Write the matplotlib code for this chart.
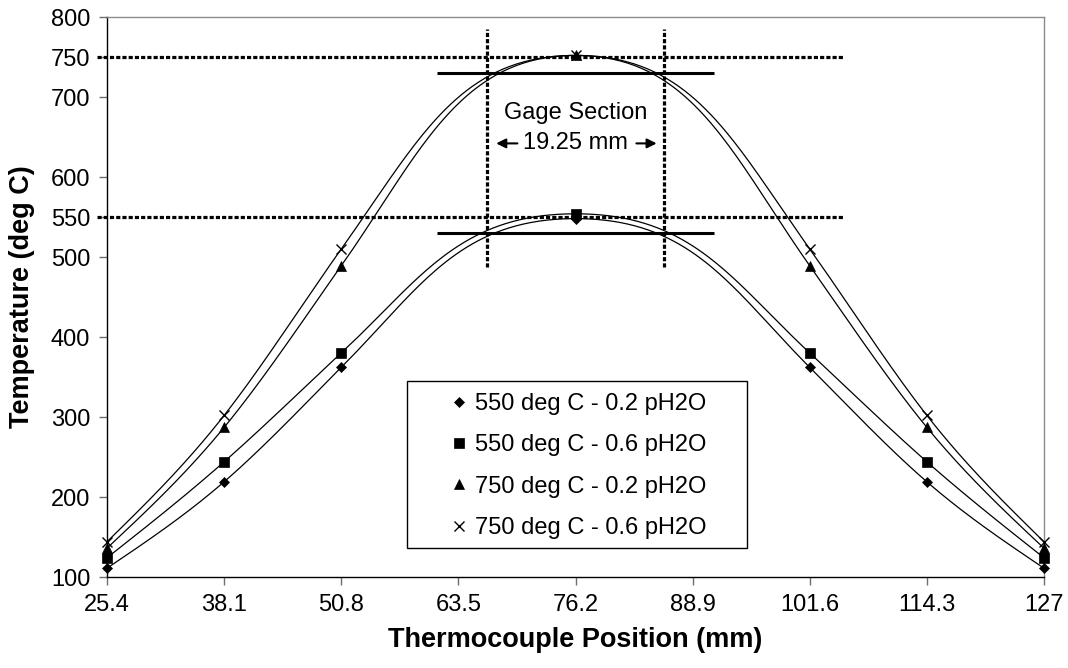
import numpy as np
import matplotlib
matplotlib.use("Agg")
import matplotlib.pyplot as plt
from matplotlib.lines import Line2D
from matplotlib.patches import Rectangle

plt.rcParams['font.family'] = ['Liberation Sans', 'DejaVu Sans']

# ---------------- data ----------------
positions = [25.4, 38.1, 50.8, 76.2, 101.6, 114.3, 127.0]
x_ticks = [25.4, 38.1, 50.8, 63.5, 76.2, 88.9, 101.6, 114.3, 127.0]
x_tick_labels = ["25.4", "38.1", "50.8", "63.5", "76.2", "88.9", "101.6", "114.3", "127"]
y_ticks = [100, 200, 300, 400, 500, 550, 600, 700, 750, 800]

t550_02 = [111, 219, 362, 548, 362, 219, 111]
t550_06 = [124, 244, 380, 554, 380, 244, 124]
t750_02 = [136, 287, 489, 752, 489, 287, 136]
t750_06 = [144, 302, 510, 752, 510, 302, 144]

series_labels = ["550 deg C - 0.2 pH2O", "550 deg C - 0.6 pH2O",
                 "750 deg C - 0.2 pH2O", "750 deg C - 0.6 pH2O"]
series_values = [t550_02, t550_06, t750_02, t750_06]
series_markers = ["D", "s", "^", "x"]
series_msizes = [5.5, 6.5, 6.5, 7]

target_temps = [550, 750]
tolerance = 20
gage_center = 76.2
gage_length = 19.25
target_line_x = [24.3, 105.2]
tol_line_x = [61.2, 91.2]
gage_line_y = [488, 785]


def spline_slopes(x, y):
    """Slopes of the natural cubic spline through the points."""
    x = np.asarray(x, float)
    y = np.asarray(y, float)
    n = len(x)
    h = np.diff(x)
    d = np.diff(y) / h
    A = np.zeros((n, n))
    b = np.zeros(n)
    A[0, 0] = 1
    A[-1, -1] = 1
    for i in range(1, n - 1):
        A[i, i - 1] = h[i - 1]
        A[i, i] = 2 * (h[i - 1] + h[i])
        A[i, i + 1] = h[i]
        b[i] = 6 * (d[i] - d[i - 1])
    M = np.linalg.solve(A, b)
    m = np.zeros(n)
    for i in range(n - 1):
        m[i] = d[i] - h[i] * (2 * M[i] + M[i + 1]) / 6
    m[-1] = d[-1] + h[-1] * (M[-2] + 2 * M[-1]) / 6
    return m


def smooth(x, y, peak_frac=0.5, n=80):
    """Smooth Bezier curve; handles are longer (flatter) at the extremum."""
    x = np.asarray(x, float)
    y = np.asarray(y, float)
    m = spline_slopes(x, y)
    npts = len(x)
    ext = np.zeros(npts, bool)
    for i in range(1, npts - 1):
        if (y[i] - y[i - 1]) * (y[i + 1] - y[i]) < 0:
            ext[i] = True
            m[i] = 0.0
    out = []
    t = np.linspace(0, 1, n)[:, None]
    for i in range(npts - 1):
        h = x[i + 1] - x[i]
        a = h * (peak_frac if ext[i] else 1 / 3)
        bb = h * (peak_frac if ext[i + 1] else 1 / 3)
        p1 = np.array([x[i], y[i]])
        p2 = np.array([x[i + 1], y[i + 1]])
        c1 = p1 + np.array([a, a * m[i]])
        c2 = p2 - np.array([bb, bb * m[i + 1]])
        seg = ((1 - t) ** 3) * p1 + 3 * ((1 - t) ** 2) * t * c1 + 3 * (1 - t) * t ** 2 * c2 + t ** 3 * p2
        out.append(seg if i == 0 else seg[1:])
    out = np.vstack(out)
    return out[:, 0], out[:, 1]


fig = plt.figure(figsize=(10.68, 6.68), dpi=100)
ax = fig.add_axes([107 / 1068, 1 - 577 / 668, 937 / 1068, 560 / 668])
ax.set_xlim(25.4, 127)
ax.set_ylim(100, 800)

for vals, mk, ms in zip(series_values, series_markers, series_msizes):
    xs, ys = smooth(positions, vals)
    ax.plot(xs, ys, color='black', lw=0.9, clip_on=False, zorder=3)
    ax.plot(positions, vals, ls='none', marker=mk, ms=ms, color='black',
            mew=1.0 if mk == 'x' else 0.5, clip_on=False, zorder=5)

# target dotted lines and tolerance lines
dot_style = (0, (1.3, 0.65))
for T in target_temps:
    ax.plot(target_line_x, [T, T], color='black', lw=2.3, ls=dot_style,
            dash_capstyle='butt', clip_on=False, zorder=4)
    ax.plot(tol_line_x, [T - tolerance, T - tolerance], color='black', lw=2.2,
            solid_capstyle='butt', zorder=4)

# gage section boundaries
for gx in [gage_center - gage_length / 2, gage_center + gage_length / 2]:
    ax.plot([gx, gx], gage_line_y, color='black', lw=2.3, ls=dot_style,
            dash_capstyle='butt', zorder=4)

ax.text(gage_center, 680, "Gage Section", ha='center', va='center', fontsize=17)
ax.text(gage_center, 642, "19.25 mm", ha='center', va='center', fontsize=17)
arrow_kw = dict(arrowstyle='-|>', color='black', lw=1.5, mutation_scale=14,
                shrinkA=0, shrinkB=0)
ax.annotate("", xy=(67.6, 642), xytext=(69.9, 642), arrowprops=arrow_kw)
ax.annotate("", xy=(85.0, 642), xytext=(82.8, 642), arrowprops=arrow_kw)

# axes styling
ax.set_xticks(x_ticks)
ax.set_xticklabels(x_tick_labels)
ax.set_yticks(y_ticks)
ax.set_yticklabels([str(v) for v in y_ticks])
ax.tick_params(axis='both', direction='out', length=6, width=1, color='#707070',
               labelsize=17, pad=6)
for s in ['left', 'bottom']:
    ax.spines[s].set_color('black')
    ax.spines[s].set_linewidth(1.0)
for s in ['top', 'right']:
    ax.spines[s].set_color('#8a8a8a')
    ax.spines[s].set_linewidth(1.0)

ax.set_xlabel("Thermocouple Position (mm)", fontsize=19.5, fontweight='bold', labelpad=8)
fig.text(22 / 1068, 1 - 297 / 668, "Temperature (deg C)", rotation=90,
         ha='center', va='center', fontsize=19.5, fontweight='bold')

# legend: box drawn separately, entries placed inside
ax.add_patch(Rectangle((300 / 937, 29 / 560), 340 / 937, 167 / 560,
                       transform=ax.transAxes, facecolor='white',
                       edgecolor='black', lw=1.0, zorder=6))
handles = [Line2D([], [], ls='none', marker=mk, ms=ms, color='black',
                  mew=1.0 if mk == 'x' else 0.5)
           for mk, ms in zip(series_markers, series_msizes)]
leg = ax.legend(handles, series_labels, loc='upper left',
                bbox_to_anchor=(343 / 937, (577 - 393) / 560),
                fontsize=17, frameon=False, labelspacing=0.82,
                handlelength=0.8, handletextpad=0.25, borderpad=0,
                borderaxespad=0)
leg.set_zorder(7)

fig.savefig("out.png", dpi=100)
